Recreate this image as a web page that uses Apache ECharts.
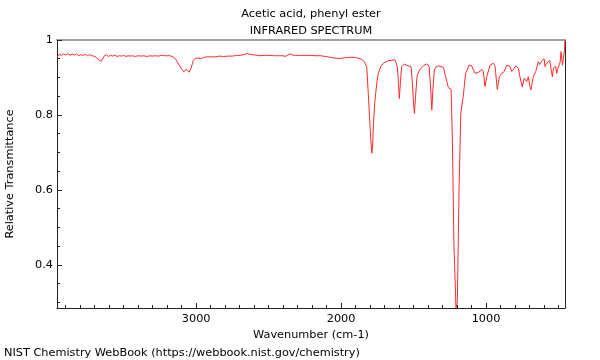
<!DOCTYPE html>
<html>
<head>
<meta charset="utf-8">
<script src="https://cdn.jsdelivr.net/npm/echarts@6/dist/echarts.min.js"></script>
<style>
html,body{margin:0;padding:0;background:#fff;}
#chart{width:600px;height:360px;}
</style>
</head>
<body>
<div id="chart"></div>
<script>
// Wavenumber (cm-1) and relative transmittance
var wavenumbers = [
3958,3945,3930,3915,3900,3885,3870,3855,3840,3825,3810,3795,3780,3765,3750,3735,3720,3705,
3690,3675,3665,3655,3645,3635,3620,3605,3590,3575,3560,3545,3530,3515,3500,3485,3470,3455,
3440,3420,3400,3380,3360,3340,3320,3300,3280,3260,3240,3220,3200,3180,3160,3140,3120,3100,
3085,3070,3060,3048,3035,3020,3007,2990,2970,2950,2930,2903,2870,2840,2810,2779,2750,2720,
2697,2670,2648,2620,2593,2560,2530,2490,2460,2430,2400,2385,2372,2352,2335,2317,2280,2250,
2214,2180,2138,2110,2076,2050,2021,2000,1986,1960,1924,1900,1883,1870,1857,1840,1823,1807,
1796,1788,1782,1776,1768,1761,1752,1743,1725,1708,1690,1674,1650,1628,1620,1612,1605,1598,
1590,1582,1564,1550,1536,1517,1507,1500,1494,1486,1476,1465,1455,1430,1409,1393,1383,1374,
1366,1357,1345,1329,1310,1294,1276,1260,1250,1241,1232,1221,1207,1198,1186,1174,1157,1141,
1117,1099,1076,1064,1041,1030,1019,1007,995,972,950,938,922,908,891,874,857,846,834,823,
812,793,777,766,750,736,719,708,697,690,674,657,639,630,621,613,605,599,593,582,570,561,
552,542,535,529,520,512,504,496,489,482,473,466,461,458,456
];
var transmittance = [
0.955,0.962,0.959,0.963,0.960,0.964,0.959,0.962,0.960,0.963,0.958,0.961,0.959,0.962,0.958,0.961,0.958,0.957,
0.954,0.948,0.944,0.943,0.948,0.957,0.961,0.956,0.959,0.957,0.960,0.956,0.958,0.957,0.959,0.956,0.958,0.957,
0.958,0.956,0.958,0.957,0.958,0.956,0.958,0.957,0.958,0.957,0.959,0.958,0.958,0.958,0.955,0.948,0.935,0.922,
0.915,0.922,0.921,0.914,0.925,0.945,0.951,0.952,0.950,0.953,0.955,0.955,0.955,0.957,0.956,0.957,0.957,0.959,
0.959,0.961,0.964,0.961,0.960,0.958,0.959,0.959,0.958,0.958,0.958,0.956,0.954,0.963,0.960,0.959,0.959,0.959,
0.959,0.958,0.958,0.956,0.954,0.952,0.951,0.951,0.952,0.953,0.954,0.953,0.952,0.951,0.948,0.942,0.929,0.820,
0.740,0.698,0.720,0.780,0.830,0.858,0.890,0.911,0.930,0.938,0.942,0.945,0.946,0.947,0.944,0.929,0.890,0.844,
0.890,0.929,0.936,0.933,0.931,0.929,0.880,0.830,0.804,0.850,0.902,0.915,0.922,0.932,0.936,0.931,0.880,0.813,
0.870,0.920,0.928,0.931,0.929,0.927,0.898,0.873,0.871,0.868,0.733,0.450,0.285,0.300,0.600,0.804,0.850,0.911,
0.933,0.931,0.911,0.907,0.916,0.922,0.916,0.876,0.902,0.933,0.938,0.931,0.868,0.902,0.911,0.916,0.933,0.938,0.929,0.916,
0.911,0.931,0.924,0.902,0.875,0.898,0.889,0.902,0.876,0.867,0.902,0.916,0.942,0.935,0.933,0.945,0.940,0.950,0.929,0.938,0.938,0.945,
0.942,0.902,0.925,0.920,0.930,0.911,0.925,0.920,0.940,0.969,0.933,0.950,0.947,0.975,1.000
];
var xMajorTicks = [1000, 2000, 3000];
var xMinorTicks = [500,600,700,800,900,1100,1200,1300,1400,1500,1600,1700,1800,1900,
  2100,2200,2300,2400,2500,2600,2700,2800,2900,3100,3200,3300,3400,3500,3600,3700,3800,3900];
var yMajorTicks = [0.4, 0.6, 0.8, 1];
var yMinorTicks = [0.3,0.35,0.45,0.5,0.55,0.65,0.7,0.75,0.85,0.9,0.95];

var X_MIN = 455, X_MAX = 3960, Y_MIN = 0.285, Y_MAX = 1;
var FONT = 'DejaVu Sans';
var FS = 11.3;

var data = wavenumbers.map(function (w, i) { return [w, transmittance[i]]; });

var chart = echarts.init(document.getElementById('chart'), null, {renderer: 'canvas'});

function xAx(extra) {
  var base = {
    type: 'value', inverse: true, min: X_MIN, max: X_MAX,
    splitLine: {show: false}, axisLine: {show: false},
    axisTick: {show: false}, axisLabel: {show: false}
  };
  return Object.assign(base, extra);
}
function yAx(extra) {
  var base = {
    type: 'value', min: Y_MIN, max: Y_MAX,
    splitLine: {show: false}, axisLine: {show: false},
    axisTick: {show: false}, axisLabel: {show: false}
  };
  return Object.assign(base, extra);
}

chart.setOption({
  animation: false,
  backgroundColor: '#fff',
  textStyle: {fontFamily: FONT},
  title: [
    {text: 'Acetic acid, phenyl ester', left: 311, top: 9, textAlign: 'center', padding: 0,
     textStyle: {fontSize: FS, fontWeight: 'normal', color: '#000', fontFamily: FONT}},
    {text: 'INFRARED SPECTRUM', left: 311, top: 26, textAlign: 'center', padding: 0,
     textStyle: {fontSize: FS, fontWeight: 'normal', color: '#000', fontFamily: FONT}},
    {text: 'NIST Chemistry WebBook (https://webbook.nist.gov/chemistry)', left: 4, top: 348, padding: 0,
     textStyle: {fontSize: FS, fontWeight: 'normal', color: '#000', fontFamily: FONT}}
  ],
  grid: {left: 57, right: 35, top: 40, bottom: 52, containLabel: false, outerBoundsMode: 'none'},
  xAxis: [
    xAx({position: 'bottom',
      axisLine: {show: true, onZero: false, lineStyle: {color: '#222', width: 1}},
      axisTick: {show: true, inside: true, length: 5, customValues: xMajorTicks, lineStyle: {color: '#222'}},
      axisLabel: {show: true, customValues: xMajorTicks, color: '#000', fontSize: FS, margin: 6, fontFamily: FONT,
        formatter: function (v) { return String(v); }},
      name: 'Wavenumber (cm-1)', nameLocation: 'middle', nameGap: 18,
      nameTextStyle: {color: '#000', fontSize: FS, fontFamily: FONT}}),
    xAx({position: 'bottom',
      axisTick: {show: true, inside: true, length: 3, customValues: xMinorTicks, lineStyle: {color: '#222'}}}),
    xAx({position: 'top',
      axisLine: {show: true, onZero: false, lineStyle: {color: '#a0a0a0', width: 2}}})
  ],
  yAxis: [
    yAx({position: 'left',
      axisLine: {show: true, onZero: false, lineStyle: {color: '#222', width: 1}},
      axisTick: {show: true, inside: true, length: 5, customValues: yMajorTicks, lineStyle: {color: '#222'}},
      axisLabel: {show: true, customValues: yMajorTicks, color: '#000', fontSize: FS, margin: 4, fontFamily: FONT,
        formatter: function (v) { return String(Math.round(v * 10) / 10); }},
      name: 'Relative Transmittance', nameLocation: 'middle', nameGap: 41, nameRotate: 90,
      nameTextStyle: {color: '#000', fontSize: FS, fontFamily: FONT}}),
    yAx({position: 'left',
      axisTick: {show: true, inside: true, length: 3, customValues: yMinorTicks, lineStyle: {color: '#222'}}}),
    yAx({position: 'right',
      axisLine: {show: true, onZero: false, lineStyle: {color: '#222', width: 1}}})
  ],
  series: [{
    type: 'line',
    xAxisIndex: 0, yAxisIndex: 0,
    data: data,
    showSymbol: false,
    symbol: 'none',
    clip: true,
    lineStyle: {color: '#ff2a2a', width: 1},
    z: 1
  }]
});
</script>
</body>
</html>
